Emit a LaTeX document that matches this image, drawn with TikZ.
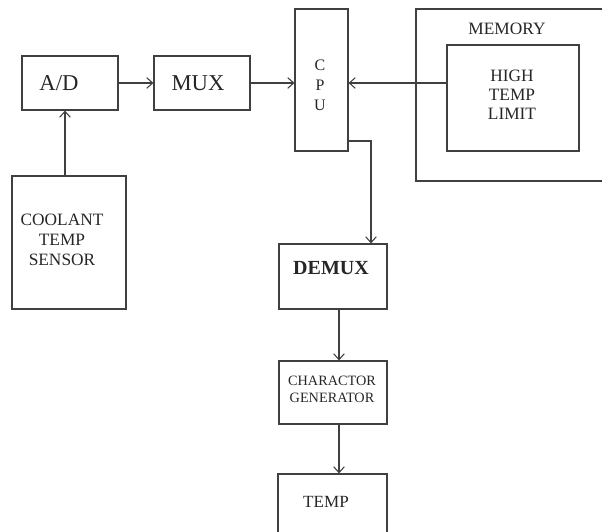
\documentclass[tikz,border=0pt]{standalone}
\usepackage{fontspec}
\setmainfont{Liberation Serif}
\usetikzlibrary{arrows.meta}
\definecolor{ln}{HTML}{404040}
\begin{document}
\begin{tikzpicture}[x=0.75pt,y=-0.75pt,
  box/.style={draw=ln,line width=0.8pt,inner sep=0pt,rectangle},
  lbl/.style={inner sep=0pt,align=center,text=black!85},
  conn/.style={draw=ln,line width=0.8pt,-{Straight Barb[length=4.5pt,width=8pt,line width=0.8pt]}}]
\useasboundingbox (0,0) rectangle (602,531);
\clip (0,0) rectangle (602,531);
% boxes
\node[box,minimum width=72pt,minimum height=40.5pt] (ad) at (70,83) {};
\node[box,minimum width=72pt,minimum height=40.5pt] (mux) at (202,83) {};
\node[box,minimum width=39.75pt,minimum height=106.5pt] (cpu) at (321.5,80) {};
\node[box,minimum width=153pt,minimum height=129pt] (mem) at (518,95) {};
\node[box,minimum width=99pt,minimum height=79.5pt] (lim) at (513,98) {};
\node[box,minimum width=85.5pt,minimum height=99.75pt] (sensor) at (69,242.5) {};
\node[box,minimum width=81pt,minimum height=48.75pt] (demux) at (333,276.5) {};
\node[box,minimum width=81pt,minimum height=47.25pt] (chr) at (333,392.5) {};
\node[box,minimum width=81.75pt,minimum height=57pt] (temp) at (332.5,512) {};
% labels
\node[lbl,font=\fontsize{17pt}{20pt}\selectfont] (adt) at (59,83) {A/D};
\node[lbl,font=\fontsize{17pt}{20pt}\selectfont] (muxt) at (198,83) {MUX};
\node[lbl,font=\fontsize{12pt}{15pt}\selectfont] (cput) at (320,85) {C\\P\\U};
\node[lbl,font=\fontsize{13pt}{15pt}\selectfont] (memt) at (507,29) {MEMORY};
\node[lbl,font=\fontsize{13pt}{14.3pt}\selectfont] (limt) at (512,95) {HIGH\\TEMP\\ LIMIT};
\node[lbl,font=\fontsize{13pt}{15pt}\selectfont] (sent) at (62,240) {COOLANT\\TEMP\\SENSOR};
\node[lbl,font=\fontsize{15pt}{18pt}\selectfont\bfseries] (demuxt) at (331,268) {DEMUX};
\node[lbl,font=\fontsize{10.7pt}{12.75pt}\selectfont] (chrt) at (332,389.5) {CHARACTOR\\GENERATOR};
\node[lbl,font=\fontsize{12.8pt}{15pt}\selectfont] (tempt) at (326,502) {TEMP};
% connectors
\coordinate (bend) at (371,141);
\coordinate (vx) at (339,0);
\draw[conn] (ad.east) -- (mux.west);
\draw[conn] (mux.east) -- (mux.east -| cpu.west);
\draw[conn] (lim.west |- mux.east) -- (cpu.east |- mux.east);
\draw[conn] ([xshift=-3]sensor.north) -- ([xshift=-3]sensor.north |- ad.south);
\draw[conn] (cpu.east |- bend) -- (bend) -- (bend |- demux.north);
\draw[conn] (demux.south -| vx) -- (chr.north -| vx);
\draw[conn] (chr.south -| vx) -- (temp.north -| vx);
\end{tikzpicture}
\end{document}
